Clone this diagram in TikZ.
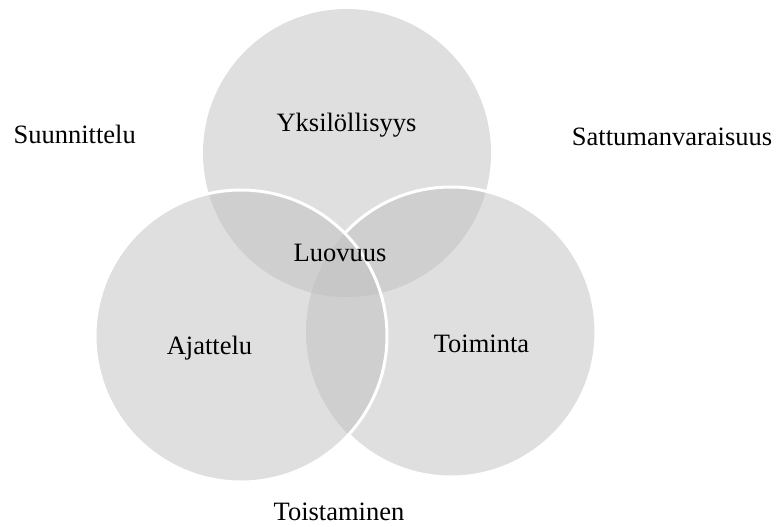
\documentclass[tikz,border=0pt]{standalone}
\usepackage{fontspec}
\setmainfont{Liberation Serif}
\definecolor{one}{HTML}{DFDFDF}
\definecolor{two}{HTML}{CFCFCF}
\definecolor{three}{HTML}{C7C7C7}
\tikzset{lbl/.style={anchor=base, inner sep=0pt, font=\fontsize{26.5}{30}\selectfont, text=black},
  rim/.style={draw=white, line width=3pt}}
\begin{document}
\begin{tikzpicture}[x=1pt,y=-1pt]
\useasboundingbox (0,0) rectangle (776,527);
\def\topc{(347,153) circle[radius=144]}
\def\rightc{(451,332) circle[radius=145]}
\def\leftc{(241,336) circle[radius=146]}
% top and right
\fill[one] \topc;
\fill[one] \rightc;
\begin{scope}\clip \rightc; \fill[two] \topc; \end{scope}
\draw[rim] \rightc;
% left
\fill[one] \leftc;
\begin{scope}\clip \leftc;
  \fill[two] \topc; \fill[two] \rightc;
  \clip \rightc; \fill[three] \topc;
\end{scope}
\draw[rim] \leftc;
% labels
\node[lbl] (yks) at (346.5,131) {Yksilöllisyys};
\node[lbl] (luo) at (340,261) {Luovuus};
\node[lbl] (aja) at (209.5,354) {Ajattelu};
\node[lbl] (toi) at (481.5,352) {Toiminta};
\node[lbl] (suu) at (74.7,143.3) {Suunnittelu};
\node[lbl] (sat) at (672,145.7) {Sattumanvaraisuus};
\node[lbl] (tst) at (339,520) {Toistaminen};
\end{tikzpicture}
\end{document}
